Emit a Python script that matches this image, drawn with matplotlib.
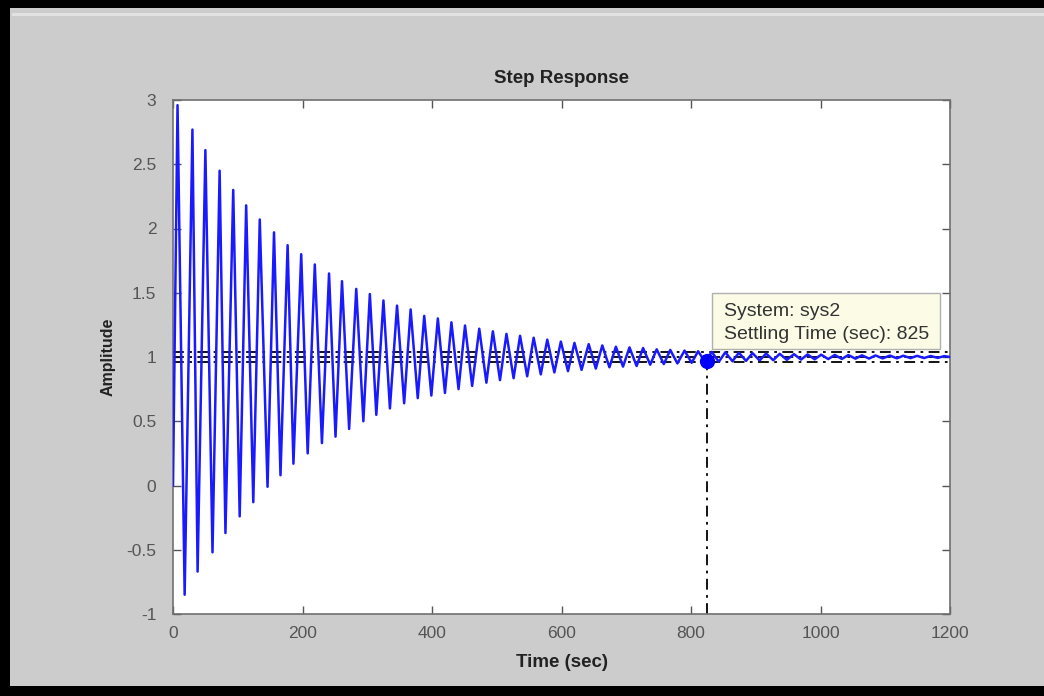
import matplotlib.pyplot as plt
from matplotlib.patches import Rectangle, FancyBboxPatch

# values (step response of sys2)
peak_time = [7, 30, 50, 72, 93, 113, 134, 156, 177, 198, 219, 241, 261, 283, 304, 325,
             346, 367, 388, 409, 430, 451, 473, 494, 515, 536, 557, 578, 599, 620, 642,
             663, 684, 705, 726, 747, 768, 790, 811, 832, 853, 874, 895, 916, 937, 959,
             980, 1001, 1022, 1043, 1064, 1085, 1107, 1128, 1149, 1170, 1191]
peak_amp = [2.96, 2.77, 2.61, 2.45, 2.30, 2.18, 2.07, 1.97, 1.87, 1.80, 1.72, 1.65, 1.59,
            1.53, 1.49, 1.44, 1.40, 1.37, 1.32, 1.30, 1.27, 1.245, 1.22, 1.20, 1.18, 1.165,
            1.15, 1.135, 1.12, 1.11, 1.10, 1.09, 1.08, 1.075, 1.07, 1.06, 1.055, 1.05,
            1.045, 1.04, 1.037, 1.033, 1.03, 1.027, 1.025, 1.022, 1.02, 1.018, 1.016,
            1.015, 1.013, 1.012, 1.011, 1.01, 1.009, 1.008, 1.007]
trough_time = [18, 38, 61, 81, 103, 124, 146, 166, 186, 208, 230, 251, 272, 294, 314, 335,
               357, 378, 399, 420, 441, 462, 484, 505, 526, 547, 568, 589, 610, 631, 653,
               674, 695, 716, 737, 758, 779, 801, 822, 843, 864, 885, 906, 927, 948, 970,
               991, 1012, 1033, 1054, 1075, 1096, 1118, 1139, 1160, 1181]
trough_amp = [-0.85, -0.67, -0.52, -0.37, -0.24, -0.13, -0.01, 0.08, 0.17, 0.25, 0.33, 0.38,
              0.44, 0.50, 0.55, 0.60, 0.64, 0.68, 0.70, 0.72, 0.75, 0.775, 0.80, 0.82, 0.835,
              0.85, 0.865, 0.88, 0.89, 0.90, 0.91, 0.92, 0.925, 0.93, 0.94, 0.945, 0.95,
              0.955, 0.96, 0.963, 0.967, 0.97, 0.973, 0.975, 0.978, 0.98, 0.982, 0.984,
              0.985, 0.987, 0.988, 0.989, 0.99, 0.991, 0.992, 0.993]
start_point = (0, 0.0)
end_point = (1200, 1.0)
band_levels = [0.96, 1.0, 1.04]
settle_time = 825
settle_amp = 0.965
x_ticks = [0, 200, 400, 600, 800, 1000, 1200]
y_ticks = [-1, -0.5, 0, 0.5, 1, 1.5, 2, 2.5, 3]

plt.rcParams['font.family'] = ['Liberation Sans', 'DejaVu Sans']

# merge peaks and troughs into one trace, ordered by time
pts = sorted(list(zip(peak_time, peak_amp)) + list(zip(trough_time, trough_amp)))
pts = [start_point] + pts + [end_point]
t = [p[0] for p in pts]
y = [p[1] for p in pts]

fig = plt.figure(figsize=(10.44, 6.96), dpi=100)
fig.patch.set_facecolor('black')
# grey MATLAB window area inside the black frame
fig.patches.append(Rectangle((10 / 1044, 10 / 696), 1, 678 / 696, transform=fig.transFigure,
                             facecolor='#cccccc', edgecolor='none', zorder=-2))
fig.patches.append(Rectangle((12 / 1044, 680 / 696), 1, 3 / 696, transform=fig.transFigure,
                             facecolor='#e2e2e2', edgecolor='none', zorder=-1))

ax = fig.add_axes([173 / 1044, 82 / 696, 777 / 1044, 514 / 696])
ax.set_facecolor('white')

for lvl in band_levels:
    ax.axhline(lvl, color='black', lw=1.3, ls=(0, (6, 3, 1.5, 3)), zorder=2)

ax.plot(t, y, color='#1a1aff', lw=1.8, zorder=3)

ax.plot([settle_time, settle_time], [-1, settle_amp], color='black', lw=1.3,
        ls=(0, (6, 3, 1.5, 3)), zorder=2)
ax.plot([settle_time], [settle_amp], 'o', color='#0000ff', ms=10, zorder=4)

ax.set_xlim(0, 1200)
ax.set_ylim(-1, 3)
ax.set_xticks(x_ticks)
ax.set_yticks(y_ticks)
ax.set_yticklabels([f'{v:g}' for v in y_ticks])
ax.tick_params(direction='in', top=True, right=True, length=6, width=1,
               colors='#555555', labelsize=12.5, labelcolor='#555555')
ax.tick_params(axis='x', pad=9)
ax.tick_params(axis='y', pad=12)
for s in ax.spines.values():
    s.set_color('#707070')
    s.set_linewidth(1.2)

ax.set_title('Step Response', fontsize=13.5, fontweight='bold', color='#222222', pad=12)
ax.set_xlabel('Time (sec)', fontsize=13.5, fontweight='bold', color='#222222', labelpad=9)
ax.set_ylabel('Amplitude', fontsize=11.5, fontweight='bold', color='#222222', labelpad=8)

# data tip box
tip = FancyBboxPatch((712 / 1044, (696 - 349) / 696), 228 / 1044, 56 / 696,
                     boxstyle='square,pad=0', transform=fig.transFigure,
                     facecolor='#fbfbe6', edgecolor='#b0b0b0', lw=1, zorder=5)
fig.patches.append(tip)
fig.text(724 / 1044, (696 - 311) / 696, 'System: sys2', fontsize=14, color='#333333',
         va='center', zorder=6)
fig.text(724 / 1044, (696 - 334) / 696, 'Settling Time (sec): 825', fontsize=14,
         color='#333333', va='center', zorder=6)

fig.savefig('out.png', dpi=100, facecolor=fig.get_facecolor())
